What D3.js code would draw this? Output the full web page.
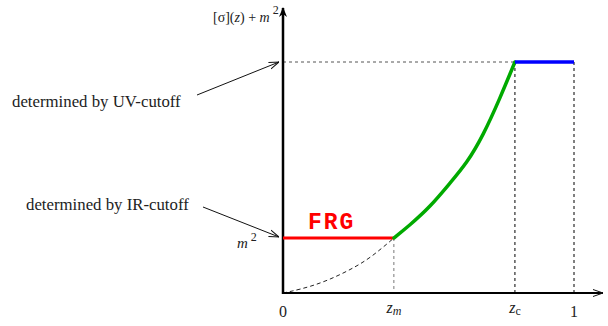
<!DOCTYPE html>
<html>
<head>
<meta charset="utf-8">
<script src="https://cdn.jsdelivr.net/npm/d3@7"></script>
<style>
body{margin:0;background:#fff;}
svg{display:block;}
text{font-family:"Liberation Serif","Times New Roman",serif;fill:#222;}
</style>
</head>
<body>
<svg width="608" height="326"></svg>
<script>
// values (x in units of z, y in units of the UV level)
var zm = 0.381, zc = 0.797, m2 = 0.238, uvLevel = 1.0;
var frgLine = [[0, m2], [zm, m2]];
var uvLine = [[zc, uvLevel], [1, uvLevel]];
var greenCurve = [[0.381,0.238],[0.436,0.294],[0.505,0.372],[0.574,0.476],[0.632,0.563],[0.687,0.680],[0.746,0.844],[0.797,1.0]];
var dashedCurve = [[0,0],[0.024,0.006],[0.093,0.027],[0.162,0.059],[0.230,0.100],[0.299,0.150],[0.381,0.238]];
var xTickLabels = [{v:0, t:"0"}, {v:zm, t:"z", sub:"m"}, {v:zc, t:"z", sub:"c"}, {v:1, t:"1"}];

var svg = d3.select("svg");
var x = d3.scaleLinear().domain([0,1]).range([283,574]);
var y = d3.scaleLinear().domain([0,1]).range([293,62]);

var line = d3.line().x(function(d){return x(d[0]);}).y(function(d){return y(d[1]);});
var smooth = d3.line().curve(d3.curveBasis).x(function(d){return x(d[0]);}).y(function(d){return y(d[1]);});

var defs = svg.append("defs");
defs.append("marker").attr("id","open").attr("viewBox","0 0 10 10").attr("refX",10).attr("refY",5)
  .attr("markerWidth",10).attr("markerHeight",10).attr("markerUnits","userSpaceOnUse").attr("orient","auto")
  .append("path").attr("d","M0,1.5 L10,5 L0,8.5").attr("fill","none").attr("stroke","#111").attr("stroke-width",1);
defs.append("marker").attr("id","filled").attr("viewBox","0 0 10 10").attr("refX",9).attr("refY",5)
  .attr("markerWidth",12).attr("markerHeight",10).attr("markerUnits","userSpaceOnUse").attr("orient","auto")
  .append("path").attr("d","M0,1 L10,5 L0,9 L3,5 Z").attr("fill","#000");

//dashed guide lines
function guide(x1,y1,x2,y2,col){
    svg.append("line").attr("x1",x1).attr("y1",y1).attr("x2",x2).attr("y2",y2)
      .style("stroke",col).style("stroke-width","1px").style("stroke-dasharray","3,3");
}
guide(x(0),y(uvLevel),x(zc),y(uvLevel),"#555");
guide(x(zm),y(m2),x(zm),y(0),"#777");
guide(x(zc),y(uvLevel),x(zc),y(0),"#000");
guide(x(1),y(uvLevel),x(1),y(0),"#000");

svg.append("path").datum(dashedCurve).attr("d",smooth).attr("fill","none")
  .style("stroke","#222").style("stroke-width","1px").style("stroke-dasharray","4,3");

//axes
svg.append("line").attr("x1",x(0)).attr("y1",y(0)+1).attr("x2",x(0)).attr("y2",8)
  .style("stroke","#000").style("stroke-width","2.5px").attr("marker-end","url(#filled)");
svg.append("line").attr("x1",x(0)-1).attr("y1",y(0)).attr("x2",603).attr("y2",y(0))
  .style("stroke","#000").style("stroke-width","2px").attr("marker-end","url(#open)");

//coloured segments
svg.append("path").datum(frgLine).attr("d",line).attr("fill","none").style("stroke","#ff0000").style("stroke-width","3px");
svg.append("path").datum(greenCurve).attr("d",smooth)
  .attr("fill","none").style("stroke","#00aa00").style("stroke-width","3.5px").style("stroke-linecap","round");
svg.append("path").datum(uvLine).attr("d",line).attr("fill","none").style("stroke","#0000ff").style("stroke-width","3.5px");

//tick labels
xTickLabels.forEach(function(d){
    var t = svg.append("text").attr("x",x(d.v)).attr("y", d.sub ? 313 : 317).attr("text-anchor","middle").style("font-size","16px");
    if(d.sub){
        t.append("tspan").text(d.t).style("font-style","italic");
        t.append("tspan").text(d.sub).attr("dy",2).style("font-size","12px").style("font-style", d.sub=="m" ? "italic":"normal");
    } else {
        t.text(d.t);
    }
});

var m2lab = svg.append("text").attr("x",237).attr("y",y(m2)+10).style("font-size","15px");
m2lab.append("tspan").text("m").style("font-style","italic");
m2lab.append("tspan").text("2").attr("dx",3).attr("dy",-7).style("font-size","12px");

var ylab = svg.append("text").attr("x",213).attr("y",22).style("font-size","14px");
ylab.append("tspan").text("[σ](");
ylab.append("tspan").text("z").style("font-style","italic");
ylab.append("tspan").text(") + ");
ylab.append("tspan").text("m").style("font-style","italic");
ylab.append("tspan").text("2").attr("dx",3).attr("dy",-8).style("font-size","12px");

svg.append("text").attr("x",308).attr("y",229).text("FRG")
  .style("font-family","'Liberation Mono','DejaVu Sans Mono',monospace").style("font-weight","bold")
  .style("font-size","23px").style("letter-spacing","2px").style("fill","#ff0000");

//annotations
svg.append("text").attr("x",12).attr("y",107).text("determined by UV-cutoff").style("font-size","16.8px");
svg.append("text").attr("x",26).attr("y",210).text("determined by IR-cutoff").style("font-size","16.8px");
svg.append("line").attr("x1",197).attr("y1",95).attr("x2",279).attr("y2",62)
  .style("stroke","#111").style("stroke-width","1px").attr("marker-end","url(#open)");
svg.append("line").attr("x1",203).attr("y1",207).attr("x2",279).attr("y2",237)
  .style("stroke","#111").style("stroke-width","1px").attr("marker-end","url(#open)");
</script>
</body>
</html>
